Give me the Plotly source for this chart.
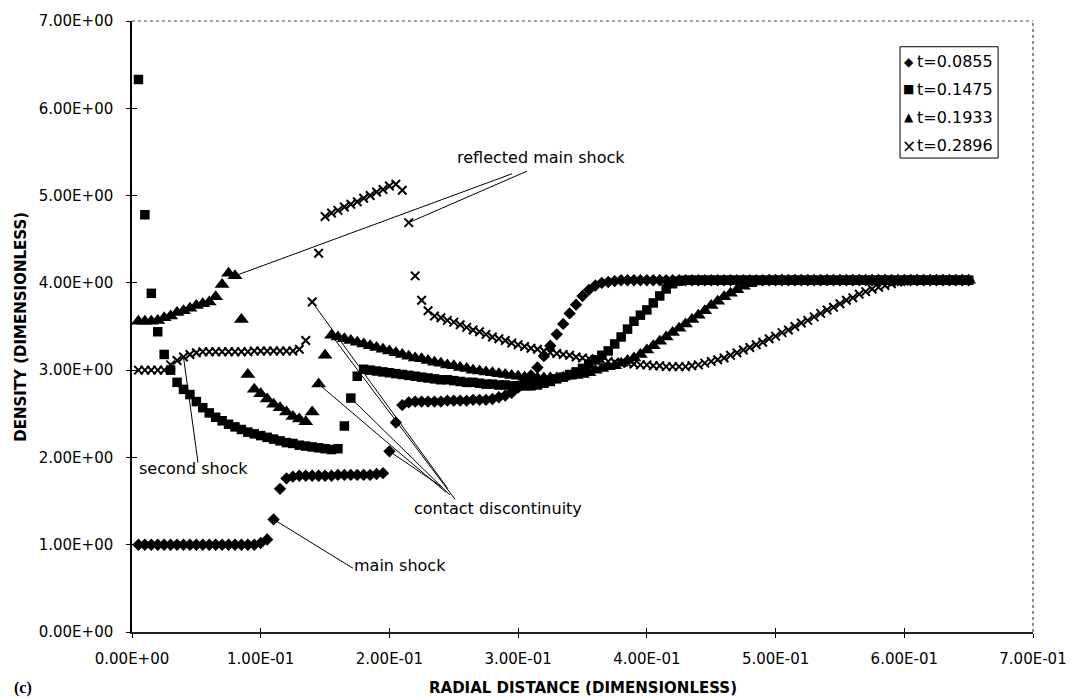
import plotly.graph_objects as go

# Radial grid of the solver (cell positions, dimensionless)
R = [round(0.005 * (k + 1), 3) for k in range(130)]

# Density profiles at four times
RHO_0855 = [
    1.00, 1.00, 1.00, 1.00, 1.00, 1.00, 1.00, 1.00, 1.00, 1.00,
    1.00, 1.00, 1.00, 1.00, 1.00, 1.00, 1.00, 1.00, 1.00, 1.02,
    1.06, 1.29, 1.64, 1.76, 1.78, 1.79, 1.79, 1.79, 1.79, 1.79,
    1.79, 1.80, 1.80, 1.80, 1.80, 1.80, 1.80, 1.81, 1.82, 2.07,
    2.40, 2.60, 2.63, 2.64, 2.64, 2.64, 2.64, 2.64, 2.65, 2.65,
    2.65, 2.65, 2.66, 2.66, 2.66, 2.67, 2.69, 2.71, 2.74, 2.80,
    2.87, 2.94, 3.03, 3.16, 3.28, 3.41, 3.53, 3.65, 3.75, 3.85,
    3.92, 3.97, 4.00, 4.01, 4.02, 4.03, 4.03, 4.03, 4.03, 4.03,
    4.03, 4.03, 4.03, 4.03, 4.03, 4.03, 4.03, 4.03, 4.03, 4.03,
    4.03, 4.03, 4.03, 4.03, 4.03, 4.03, 4.03, 4.03, 4.03, 4.03,
    4.03, 4.03, 4.03, 4.03, 4.03, 4.03, 4.03, 4.03, 4.03, 4.03,
    4.03, 4.03, 4.03, 4.03, 4.03, 4.03, 4.03, 4.03, 4.03, 4.03,
    4.03, 4.03, 4.03, 4.03, 4.03, 4.03, 4.03, 4.03, 4.03, 4.03,
]
RHO_1475 = [
    6.33, 4.78, 3.88, 3.44, 3.18, 3.00, 2.86, 2.78, 2.72, 2.64,
    2.57, 2.51, 2.46, 2.42, 2.38, 2.35, 2.32, 2.29, 2.27, 2.25,
    2.23, 2.21, 2.19, 2.17, 2.16, 2.14, 2.13, 2.12, 2.11, 2.10,
    2.09, 2.10, 2.36, 2.68, 2.93, 3.01, 3.00, 2.99, 2.98, 2.97,
    2.96, 2.95, 2.94, 2.93, 2.92, 2.91, 2.90, 2.89, 2.89, 2.88,
    2.87, 2.86, 2.86, 2.85, 2.84, 2.84, 2.83, 2.83, 2.82, 2.82,
    2.82, 2.82, 2.83, 2.85, 2.87, 2.90, 2.92, 2.95, 2.98, 3.02,
    3.07, 3.12, 3.17, 3.22, 3.30, 3.38, 3.47, 3.56, 3.63, 3.69,
    3.77, 3.85, 3.93, 3.99, 4.02, 4.03, 4.03, 4.03, 4.03, 4.03,
    4.03, 4.03, 4.03, 4.03, 4.03, 4.03, 4.03, 4.03, 4.03, 4.03,
    4.03, 4.03, 4.03, 4.03, 4.03, 4.03, 4.03, 4.03, 4.03, 4.03,
    4.03, 4.03, 4.03, 4.03, 4.03, 4.03, 4.03, 4.03, 4.03, 4.03,
    4.03, 4.03, 4.03, 4.03, 4.03, 4.03, 4.03, 4.03, 4.03, 4.03,
]
RHO_1933 = [
    3.56, 3.56, 3.56, 3.57, 3.60, 3.62, 3.66, 3.68, 3.71, 3.74,
    3.76, 3.78, 3.84, 3.98, 4.11, 4.08, 3.58, 2.95, 2.78, 2.73,
    2.67, 2.61, 2.57, 2.52, 2.47, 2.44, 2.41, 2.52, 2.84, 3.17,
    3.40, 3.38, 3.36, 3.34, 3.32, 3.30, 3.28, 3.26, 3.24, 3.22,
    3.20, 3.18, 3.16, 3.14, 3.13, 3.11, 3.09, 3.08, 3.06, 3.05,
    3.03, 3.02, 3.00, 2.99, 2.98, 2.97, 2.96, 2.95, 2.94, 2.93,
    2.92, 2.91, 2.91, 2.91, 2.91, 2.91, 2.92, 2.93, 2.94, 2.95,
    2.97, 3.00, 3.02, 3.04, 3.05, 3.08, 3.11, 3.14, 3.18, 3.23,
    3.28, 3.33, 3.38, 3.43, 3.48, 3.53, 3.58, 3.63, 3.68, 3.74,
    3.79, 3.84, 3.88, 3.92, 3.96, 3.99, 4.01, 4.02, 4.03, 4.03,
    4.03, 4.03, 4.03, 4.03, 4.03, 4.03, 4.03, 4.03, 4.03, 4.03,
    4.03, 4.03, 4.03, 4.03, 4.03, 4.03, 4.03, 4.03, 4.03, 4.03,
    4.03, 4.03, 4.03, 4.03, 4.03, 4.03, 4.03, 4.03, 4.03, 4.03,
]
RHO_2896 = [
    3.00, 3.00, 3.00, 3.00, 3.00, 3.06, 3.11, 3.15, 3.18, 3.20,
    3.21, 3.21, 3.21, 3.21, 3.21, 3.21, 3.21, 3.21, 3.22, 3.22,
    3.22, 3.22, 3.22, 3.22, 3.22, 3.24, 3.34, 3.78, 4.34, 4.76,
    4.80, 4.83, 4.87, 4.90, 4.93, 4.97, 5.00, 5.04, 5.07, 5.11,
    5.13, 5.06, 4.69, 4.08, 3.80, 3.68, 3.62, 3.60, 3.57, 3.55,
    3.52, 3.49, 3.46, 3.44, 3.41, 3.38, 3.36, 3.34, 3.31, 3.29,
    3.27, 3.25, 3.24, 3.22, 3.20, 3.19, 3.18, 3.17, 3.15, 3.14,
    3.13, 3.12, 3.11, 3.10, 3.09, 3.08, 3.08, 3.07, 3.06, 3.06,
    3.05, 3.05, 3.04, 3.04, 3.04, 3.04, 3.05, 3.06, 3.08, 3.10,
    3.12, 3.14, 3.17, 3.20, 3.23, 3.26, 3.29, 3.32, 3.36, 3.39,
    3.43, 3.46, 3.50, 3.54, 3.57, 3.61, 3.65, 3.69, 3.72, 3.76,
    3.80, 3.83, 3.87, 3.90, 3.93, 3.95, 3.97, 3.99, 4.01, 4.02,
    4.03, 4.03, 4.03, 4.03, 4.03, 4.03, 4.03, 4.03, 4.03, 4.03,
]

TIMES = ["t=0.0855", "t=0.1475", "t=0.1933", "t=0.2896"]
X_TICKS = [0.0, 0.1, 0.2, 0.3, 0.4, 0.5, 0.6, 0.7]
X_TICK_TEXT = ["0.00E+00", "1.00E-01", "2.00E-01", "3.00E-01",
               "4.00E-01", "5.00E-01", "6.00E-01", "7.00E-01"]
Y_TICKS = [0, 1, 2, 3, 4, 5, 6, 7]
Y_TICK_TEXT = ["0.00E+00", "1.00E+00", "2.00E+00", "3.00E+00",
               "4.00E+00", "5.00E+00", "6.00E+00", "7.00E+00"]

SERIES = [RHO_0855, RHO_1475, RHO_1933, RHO_2896]
MARKERS = [
    dict(symbol="diamond", size=9.5, color="black", line=dict(width=0)),
    dict(symbol="square", size=9.5, color="black", line=dict(width=0)),
    dict(symbol="triangle-up", size=13, color="black", line=dict(width=0)),
    dict(symbol="x-thin", size=8.5, color="black", line=dict(width=2, color="black")),
]
LEGEND_GLYPHS = ["\u25c6", "\u25a0", "\u25b2", "\u00d7"]

FONT = "DejaVu Sans, Liberation Sans, Arial, sans-serif"

fig = go.Figure()
for name, rho, mk in zip(TIMES, SERIES, MARKERS):
    fig.add_trace(go.Scatter(x=R, y=rho, mode="markers", name=name,
                             marker=mk, showlegend=False))

# carrier trace for the overlay axes that draw the inner half of each tick
fig.add_trace(go.Scatter(x=[None], y=[None], xaxis="x2", yaxis="y2",
                         showlegend=False, hoverinfo="skip"))

fig.update_layout(
    width=1081, height=700,
    margin=dict(l=132, r=48, t=16, b=68),
    paper_bgcolor="white", plot_bgcolor="white",
    font=dict(family=FONT, color="black"),
    xaxis=dict(range=[0, 0.7], tickvals=X_TICKS, ticktext=X_TICK_TEXT,
               ticks="outside", ticklen=4, tickwidth=1, tickcolor="black",
               showgrid=False, zeroline=False, showline=True,
               linecolor="#222", linewidth=2,
               tickfont=dict(size=15, family=FONT), ticklabelstandoff=8),
    yaxis=dict(range=[0, 7], tickvals=Y_TICKS, ticktext=Y_TICK_TEXT,
               ticks="outside", ticklen=4, tickwidth=1, tickcolor="black",
               showgrid=False, zeroline=False, showline=True,
               linecolor="black", linewidth=1.5,
               tickfont=dict(size=15, family=FONT), ticklabelstandoff=10),
    xaxis2=dict(overlaying="x", anchor="y", range=[0, 0.7], tickvals=X_TICKS,
                ticks="inside", ticklen=4, tickwidth=1, tickcolor="black",
                showticklabels=False, showgrid=False, zeroline=False, showline=False),
    yaxis2=dict(overlaying="y", anchor="x", side="left", range=[0, 7], tickvals=Y_TICKS,
                ticks="inside", ticklen=5, tickwidth=1, tickcolor="black",
                showticklabels=False, showgrid=False, zeroline=False, showline=False),
)

# dotted frame on top and right of the plot area
fig.add_shape(type="line", xref="paper", yref="paper", x0=0, x1=1, y0=1, y1=1,
              line=dict(color="#444", width=1.2, dash="dot"))
fig.add_shape(type="line", xref="paper", yref="paper", x0=1, x1=1, y0=0, y1=1,
              line=dict(color="#444", width=1.2, dash="dot"))

# leader lines from labels to the features they name
LEADERS = [
    # reflected main shock
    ((0.2953, 5.25), (R[15], RHO_1933[15])),
    ((0.3069, 5.28), (R[42], RHO_2896[42])),
    # second shock
    ((0.0513, 1.94), (R[7], RHO_2896[7])),
    # contact discontinuity
    ((0.2455, 1.64), (R[27], RHO_2896[27])),
    ((0.2510, 1.52), (R[30], RHO_1933[30])),
    ((0.2440, 1.60), (R[28], RHO_1933[28])),
    ((0.2470, 1.57), (R[33], RHO_1475[33])),
    ((0.2410, 1.66), (R[39], RHO_0855[39])),
    # main shock
    ((0.1717, 0.73), (R[21], RHO_0855[21])),
]
for (x0, y0), (x1, y1) in LEADERS:
    fig.add_shape(type="line", xref="x", yref="y", x0=x0, y0=y0, x1=x1, y1=y1,
                  line=dict(color="black", width=1))

LABELS = [
    ("reflected main shock", 0.3178, 5.44),
    ("second shock", 0.0478, 1.875),
    ("contact discontinuity", 0.2844, 1.42),
    ("main shock", 0.2082, 0.76),
]
for text, lx, ly in LABELS:
    fig.add_annotation(x=lx, y=ly, xref="x", yref="y", text=text, showarrow=False,
                       xanchor="center", yanchor="middle",
                       font=dict(size=16, family=FONT, color="black"))

# legend box
fig.add_shape(type="rect", xref="x", yref="y", x0=0.5967, x1=0.6729, y0=5.43, y1=6.705,
              line=dict(color="black", width=1), fillcolor="white", layer="above")
LEGEND_Y = [6.534, 6.216, 5.898, 5.568]
GLYPH_SIZE = [12, 12, 12, 17]
for text, glyph, gy, gs in zip(TIMES, LEGEND_GLYPHS, LEGEND_Y, GLYPH_SIZE):
    fig.add_annotation(x=0.6035, y=gy, xref="x", yref="y", text=glyph, showarrow=False,
                       xanchor="center", yanchor="middle",
                       font=dict(size=gs, family=FONT, color="black"))
    fig.add_annotation(x=0.6082, y=gy, xref="x", yref="y", text=text, showarrow=False,
                       xanchor="left", yanchor="middle",
                       font=dict(size=16, family=FONT, color="black"))

# axis titles and panel letter
fig.add_annotation(x=0.5006, y=-0.091, xref="paper", yref="paper",
                   text="<b>RADIAL DISTANCE (DIMENSIONLESS)</b>", showarrow=False,
                   xanchor="center", yanchor="middle",
                   font=dict(size=15, family=FONT, color="black"))
fig.add_annotation(x=-0.124, y=0.5, xref="paper", yref="paper",
                   text="<b>DENSITY (DIMENSIONLESS)</b>", showarrow=False, textangle=-90,
                   xanchor="center", yanchor="middle",
                   font=dict(size=15, family=FONT, color="black"))
fig.add_annotation(x=-0.133, y=-0.091, xref="paper", yref="paper",
                   text="<b>(c)</b>", showarrow=False, xanchor="left", yanchor="middle",
                   font=dict(size=16, family="Liberation Serif, Times New Roman, serif",
                             color="black"))

fig.write_html("out.html")
